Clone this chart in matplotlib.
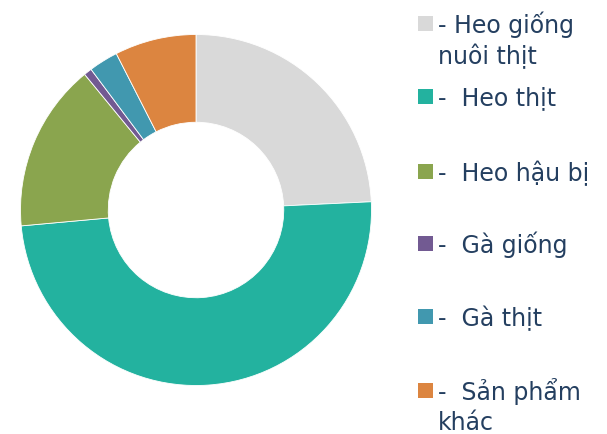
import matplotlib
matplotlib.use("Agg")
import matplotlib.pyplot as plt
from matplotlib.patches import Rectangle

labels = ["- Heo giống\nnuôi thịt", "-  Heo thịt", "-  Heo hậu bị", "-  Gà giống", "-  Gà thịt", "-  Sản phẩm\nkhác"]
values = [24.25, 49.3, 15.5, 0.74, 2.7, 7.5]
colors = ["#D9D9D9", "#23B29F", "#8AA54E", "#725A92", "#4198AF", "#DC8540"]

W, H = 607, 435
fig = plt.figure(figsize=(W / 100, H / 100), dpi=100)
R = 175.5
cx, cy = 196, 435 - 211
ax = fig.add_axes([(cx - R) / W, (cy - R) / H, 2 * R / W, 2 * R / H])
ax.pie(values, colors=colors, startangle=90, counterclock=False, radius=1,
       wedgeprops=dict(width=0.5, edgecolor="white", linewidth=0.6))
ax.set_xlim(-1, 1)
ax.set_ylim(-1, 1)
ax.set_aspect("equal")
ax.axis("off")

text_color = "#243F60"
row_y = [24, 97, 172, 244, 317, 391]
for lab, col, y in zip(labels, colors, row_y):
    fig.patches.append(Rectangle(((418) / W, (H - y - 7.5) / H), 15 / W, 15 / H,
                                 transform=fig.transFigure, facecolor=col, edgecolor="none"))
    for i, line in enumerate(lab.split("\n")):
        fig.text(438 / W, (H - y - 1 - i * 31) / H, line, fontsize=17, color=text_color,
                 va="center", ha="left", family="DejaVu Sans")

fig.savefig("out.png", dpi=100)
